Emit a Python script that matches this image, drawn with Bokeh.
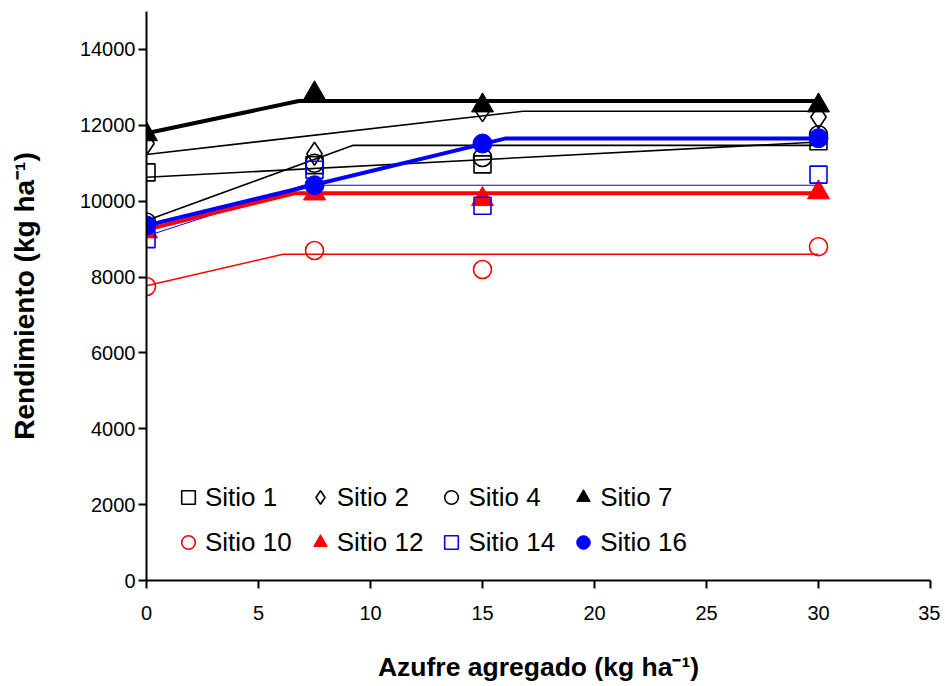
from bokeh.plotting import figure
from bokeh.models import Range1d, Legend, LegendItem, FixedTicker
from bokeh.embed import file_html
from bokeh.resources import INLINE

# ---- data ----
azufre = [0, 7.5, 15, 30]
sitio1 = [10760, 10950, 10970, 11580]
sitio2 = [11520, 11250, 12400, 12220]
sitio4 = [9450, 11000, 11150, 11750]
sitio7 = [11760, 12840, 12520, 12520]
sitio10 = [7750, 8700, 8200, 8800]
sitio12 = [9200, 10200, 10050, 10230]
sitio14 = [9000, 10830, 9880, 10700]
sitio16 = [9360, 10420, 11520, 11660]

# fitted linear-plateau models (x, y)
fit1_x, fit1_y = [0, 30], [10630, 11560]
fit2_x, fit2_y = [0, 16.8, 30], [11230, 12370, 12370]
fit4_x, fit4_y = [0, 9.2, 30], [9490, 11470, 11470]
fit7_x, fit7_y = [0, 6.8, 30], [11790, 12640, 12640]
fit10_x, fit10_y = [0, 6.1, 30], [7770, 8600, 8600]
fit12_x, fit12_y = [0, 6.6, 30], [9250, 10210, 10210]
fit14_x, fit14_y = [0, 7.0, 30], [9080, 10420, 10420]
fit16_x, fit16_y = [0, 16.0, 30], [9360, 11650, 11650]

x_ticks = [0, 5, 10, 15, 20, 25, 30, 35]
y_ticks = [0, 2000, 4000, 6000, 8000, 10000, 12000, 14000]

FONT = "Liberation Sans"

p = figure(width=940, height=686, output_backend="svg", toolbar_location=None,
           x_range=Range1d(0, 35), y_range=Range1d(0, 15000),
           min_border_left=146, min_border_right=10, min_border_top=11,
           min_border_bottom=106)
p.outline_line_color = None
p.xgrid.visible = False
p.ygrid.visible = False

for ax in (p.xaxis, p.yaxis):
    ax.axis_line_width = 2
    ax.axis_line_color = "black"
    ax.major_tick_line_width = 2
    ax.major_tick_line_color = "black"
    ax.major_tick_out = 8
    ax.major_tick_in = 0
    ax.minor_tick_line_color = None
    ax.major_label_text_font = FONT
    ax.major_label_text_font_size = "20px"
    ax.major_label_text_color = "black"
    ax.axis_label_text_font = FONT
    ax.axis_label_text_font_style = "bold"
    ax.axis_label_text_color = "black"

p.xaxis.ticker = FixedTicker(ticks=x_ticks)
p.yaxis.ticker = FixedTicker(ticks=y_ticks)
p.xaxis.major_label_standoff = 17
p.yaxis.major_label_standoff = 3
p.xaxis.axis_label = "Azufre agregado (kg ha\u207b\u00b9)"
p.yaxis.axis_label = "Rendimiento (kg ha\u207b\u00b9)"
p.xaxis.axis_label_text_font_size = "26.5px"
p.yaxis.axis_label_text_font_size = "28px"
p.xaxis.axis_label_standoff = 29
p.yaxis.axis_label_standoff = 37

# fitted lines
p.line(fit1_x, fit1_y, line_color="black", line_width=1.6)
p.line(fit2_x, fit2_y, line_color="black", line_width=1.6)
p.line(fit4_x, fit4_y, line_color="black", line_width=1.6)
p.line(fit10_x, fit10_y, line_color="#ff0000", line_width=1.6)
p.line(fit14_x, fit14_y, line_color="#0000ff", line_width=1.0)
p.line(fit7_x, fit7_y, line_color="black", line_width=4)
p.line(fit12_x, fit12_y, line_color="#ff0000", line_width=4)
p.line(fit16_x, fit16_y, line_color="#0000ff", line_width=4)

# markers
r1 = p.scatter(azufre, sitio1, marker="square", size=17, fill_color=None,
               line_color="black", line_width=1.6)
r2 = p.scatter(azufre, sitio2, marker="diamond", size=23,
               fill_color=None, line_color="black", line_width=1.6)
r4 = p.scatter(azufre, sitio4, marker="circle", size=18, fill_color=None,
               line_color="black", line_width=1.6)
r7 = p.scatter(azufre, sitio7, marker="triangle", size=22, fill_color="black",
               line_color="black")
r10 = p.scatter(azufre, sitio10, marker="circle", size=18, fill_color=None,
                line_color="#ff0000", line_width=1.6)
r12 = p.scatter(azufre, sitio12, marker="triangle", size=22, fill_color="#ff0000",
                line_color="#ff0000")
r14 = p.scatter(azufre, sitio14, marker="square", size=17, fill_color=None,
                line_color="#0000ff", line_width=1.6)
r16 = p.scatter(azufre, sitio16, marker="circle", size=19, fill_color="#0000ff",
                line_color="#0000ff")

legend = Legend(items=[
    LegendItem(label="Sitio 1", renderers=[r1]),
    LegendItem(label="Sitio 2", renderers=[r2]),
    LegendItem(label="Sitio 4", renderers=[r4]),
    LegendItem(label="Sitio 7", renderers=[r7]),
    LegendItem(label="Sitio 10", renderers=[r10]),
    LegendItem(label="Sitio 12", renderers=[r12]),
    LegendItem(label="Sitio 14", renderers=[r14]),
    LegendItem(label="Sitio 16", renderers=[r16]),
], ncols=4, orientation="horizontal", location=(25, 21),
   border_line_color=None, background_fill_alpha=0,
   glyph_width=34, glyph_height=34, label_standoff=0, spacing=11, padding=5,
   label_text_font=FONT, label_text_font_size="26px", label_text_color="black")
p.add_layout(legend)

open("out.html", "w").write(file_html(p, INLINE))
